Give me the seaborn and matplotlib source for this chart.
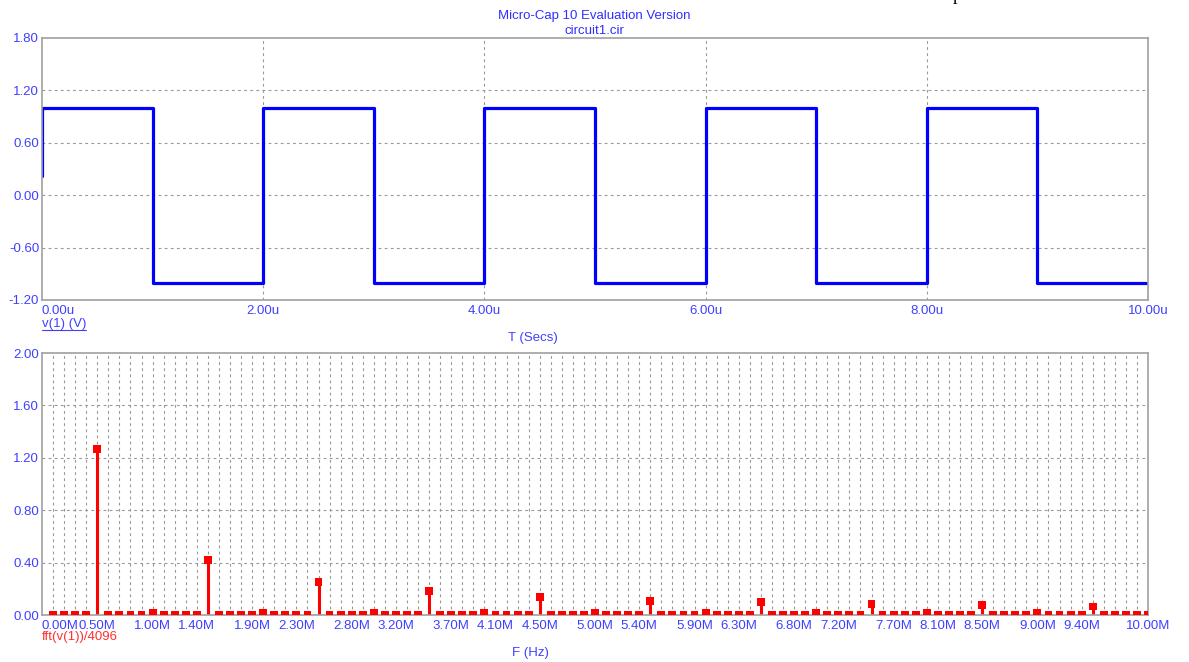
import numpy as np
import pandas as pd
import matplotlib
matplotlib.use('Agg')
from matplotlib import pyplot as plt
import seaborn as sb

sb.set_style('white')
plt.rcParams['font.family'] = ['Liberation Sans', 'DejaVu Sans']

# --- data ---
# square wave v(1), time in microseconds
t_us = [0.0, 0.0, 1.0, 1.0, 2.0, 2.0, 3.0, 3.0, 4.0, 4.0, 5.0, 5.0,
        6.0, 6.0, 7.0, 7.0, 8.0, 8.0, 9.0, 9.0, 10.0]
v1 = [0.22, 1.0, 1.0, -1.0, -1.0, 1.0, 1.0, -1.0, -1.0, 1.0, 1.0, -1.0,
      -1.0, 1.0, 1.0, -1.0, -1.0, 1.0, 1.0, -1.0, -1.0]

# fft(v(1))/4096, bins every 0.1 MHz
f_mhz = [round(0.1 * k, 1) for k in range(1, 101)]
harmonics = {0.5: 1.27, 1.5: 0.42, 2.5: 0.25, 3.5: 0.18, 4.5: 0.14,
             5.5: 0.11, 6.5: 0.097, 7.5: 0.085, 8.5: 0.075, 9.5: 0.065}
integer_bins = {1.0: 0.012, 2.0: 0.012, 3.0: 0.012, 4.0: 0.012, 5.0: 0.012,
                6.0: 0.012, 7.0: 0.012, 8.0: 0.012, 9.0: 0.012}
fft_mag = [harmonics.get(f, integer_bins.get(f, 0.0)) for f in f_mhz]

top_xticks = [0, 2, 4, 6, 8, 10]
top_xlabels = ['0.00u', '2.00u', '4.00u', '6.00u', '8.00u', '10.00u']
top_yticks = [-1.2, -0.6, 0.0, 0.6, 1.2, 1.8]
bot_xticks = [0.0, 0.5, 1.0, 1.4, 1.9, 2.3, 2.8, 3.2, 3.7, 4.1, 4.5, 5.0,
              5.4, 5.9, 6.3, 6.8, 7.2, 7.7, 8.1, 8.5, 9.0, 9.4, 10.0]
bot_yticks = [0.0, 0.4, 0.8, 1.2, 1.6, 2.0]

df_v = pd.DataFrame({'t': t_us, 'v': v1})
df_f = pd.DataFrame({'f': f_mhz, 'mag': fft_mag})

# --- figure ---
W, H = 1189, 662
fig = plt.figure(figsize=(W / 100, H / 100), dpi=100)
tick_blue = '#4040ff'
frame_grey = '#a0a0a0'
fs = 9.5
grid_kw = dict(color='#989898', linestyle=(0, (2.5, 3)), linewidth=0.8)


def px(x, y):
    return x / W, 1 - y / H


def style_axes(ax):
    for s in ax.spines.values():
        s.set_color(frame_grey)
        s.set_linewidth(1.2)
    ax.tick_params(length=0, labelsize=fs, labelcolor=tick_blue)
    ax.tick_params(axis='x', pad=3.5)
    ax.tick_params(axis='y', pad=2)
    ax.set_xlabel('')
    ax.set_ylabel('')


x0, x1 = 42, 1148
ax1 = fig.add_axes([x0 / W, 1 - 300 / H, (x1 - x0) / W, (300 - 38) / H])
sb.lineplot(data=df_v, x='t', y='v', sort=False, estimator=None,
            color='#0000ff', linewidth=2.3, ax=ax1)
ax1.set_xlim(0, 10)
ax1.set_ylim(-1.2, 1.8)
ax1.set_xticks(top_xticks)
ax1.set_xticklabels(top_xlabels)
ax1.set_yticks(top_yticks)
ax1.set_yticklabels([f'{v:.2f}' for v in top_yticks])
for x in top_xticks[1:-1]:
    ax1.axvline(x, zorder=0, **grid_kw)
for y in top_yticks[1:-1]:
    ax1.axhline(y, zorder=0, **grid_kw)
style_axes(ax1)
ax1.get_xticklabels()[0].set_ha('left')

ax2 = fig.add_axes([x0 / W, 1 - 615 / H, (x1 - x0) / W, (615 - 353) / H])
ax2.vlines(df_f['f'], 0, df_f['mag'], color='#ff0000', linewidth=2.2)
sb.scatterplot(data=df_f, x='f', y='mag', marker='s', s=32, color='#ff0000',
               edgecolor='none', linewidth=0, ax=ax2, zorder=3)
ax2.set_xlim(0, 10)
ax2.set_ylim(0, 2.0)
ax2.set_xticks(bot_xticks)
ax2.set_xticklabels([f'{v:.2f}M' for v in bot_xticks])
ax2.set_yticks(bot_yticks)
ax2.set_yticklabels([f'{v:.2f}' for v in bot_yticks])
for k in range(1, 100):
    ax2.axvline(k / 10, zorder=0, **grid_kw)
for y in bot_yticks[1:-1]:
    ax2.axhline(y, zorder=0, **grid_kw)
style_axes(ax2)
ax2.get_xticklabels()[0].set_ha('left')

# --- texts ---
fig.text(*px(594, 16), 'Micro-Cap 10 Evaluation Version', color='#3030ff',
         fontsize=fs, ha='center', va='center')
fig.text(*px(594, 31), 'circuit1.cir', color='#3030ff',
         fontsize=fs, ha='center', va='center')
fig.text(*px(957, -5), 'p', color='black', fontsize=13,
         family=['Liberation Serif'], ha='center', va='center')
fig.text(*px(42, 324), 'v(1) (V)', color=tick_blue, fontsize=fs,
         ha='left', va='center')
fig.add_artist(plt.Line2D([42 / W, 86 / W], [1 - 330 / H, 1 - 330 / H],
                          color=tick_blue, linewidth=0.8))
fig.text(*px(533, 338), 'T (Secs)', color=tick_blue, fontsize=fs,
         ha='center', va='center')
fig.text(*px(42, 637), 'fft(v(1))/4096', color='#ff3030', fontsize=fs,
         ha='left', va='center')
fig.text(*px(530, 653), 'F (Hz)', color=tick_blue, fontsize=fs,
         ha='center', va='center')

fig.savefig('out.png', dpi=100)
